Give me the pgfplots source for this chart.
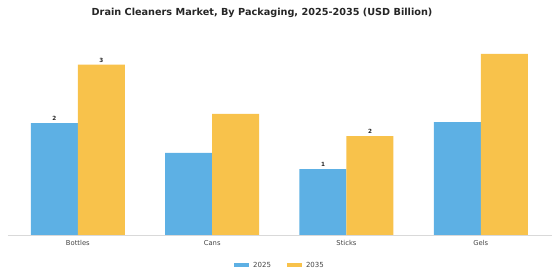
\documentclass[border=0pt]{standalone}
\usepackage{pgfplots}
\pgfplotsset{compat=1.18}
\usepackage{fontspec}
\setmainfont{DejaVu Sans}
\definecolor{cblue}{HTML}{5DB0E4}
\definecolor{corange}{HTML}{F8C24B}
\definecolor{tgray}{HTML}{444444}
\begin{document}
\begin{tikzpicture}[x=1pt,y=1pt]
\path (0,0) rectangle (560,280);
\node[font=\bfseries\fontsize{9.7}{11}\selectfont, text=black!85] at (262,267) {Drain Cleaners Market, By Packaging, 2025-2035 (USD Billion)};
\begin{axis}[
  at={(8pt,45pt)}, anchor=south west,
  scale only axis, width=544pt, height=195pt,
  xmin=-0.52, xmax=3.53, ymin=0, ymax=3.6075,
  axis y line=none, axis x line*=bottom,
  x axis line style={draw=black!15, -},
  xtick={0,1,2,3}, xticklabels={Bottles,Cans,Sticks,Gels},
  xtick style={draw=none},
  xticklabel style={font=\fontsize{6.8}{8}\selectfont, text=tgray, yshift=2pt},
  ybar=0pt, bar width=47pt,
  legend style={at={(0.5,-0.155)}, anchor=center, draw=none, legend columns=2,
    font=\fontsize{7}{8}\selectfont, text=tgray,
    /tikz/every odd column/.append style={column sep=2pt},
    /tikz/every even column/.append style={column sep=14pt}},
  legend image code/.code={\fill[#1] (0pt,-2pt) rectangle (15pt,2pt);},
  nodes near coords, point meta=explicit symbolic,
  every node near coord/.append style={font=\bfseries\fontsize{5.7}{6}\selectfont, text=black!85, yshift=-1pt},
]
\addplot[fill=cblue, draw=none] coordinates {(0,2.07) [2] (1,1.52) [] (2,1.22) [1] (3,2.09) []};
\addplot[fill=corange, draw=none] coordinates {(0,3.15) [3] (1,2.24) [] (2,1.83) [2] (3,3.35) []};
\legend{2025,2035}
\end{axis}
\end{tikzpicture}
\end{document}
